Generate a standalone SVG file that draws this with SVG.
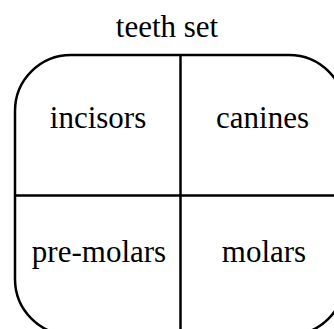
<svg xmlns="http://www.w3.org/2000/svg" width="334" height="329" viewBox="0 0 334 329">
<style>
  text { font-family: 'Liberation Serif', 'Times New Roman', 'DejaVu Serif', serif; font-size: 31px; fill: #000; text-anchor: middle; }
  .edge { fill: none; stroke: #000; stroke-width: 2.5; }
</style>
<rect width="334" height="329" fill="#fff"/>
<g id="teeth-set">
  <text x="167" y="36.5" font-family="Liberation Serif, serif">teeth set</text>
  <rect class="edge" x="15" y="55" width="330" height="280" rx="56" ry="56"/>
  <line class="edge" x1="180.5" y1="55" x2="180.5" y2="335"/>
  <line class="edge" x1="15" y1="195.5" x2="345" y2="195.5"/>
</g>
<g id="incisors">
  <text x="98" y="128.3" font-family="Liberation Serif, serif">incisors</text>
</g>
<g id="canines">
  <text x="262.5" y="128.3" font-family="Liberation Serif, serif">canines</text>
</g>
<g id="pre-molars">
  <text x="99" y="261.7" font-family="Liberation Serif, serif">pre-molars</text>
</g>
<g id="molars">
  <text x="264" y="261.7" font-family="Liberation Serif, serif">molars</text>
</g>
<g id="connectors"></g>
</svg>
